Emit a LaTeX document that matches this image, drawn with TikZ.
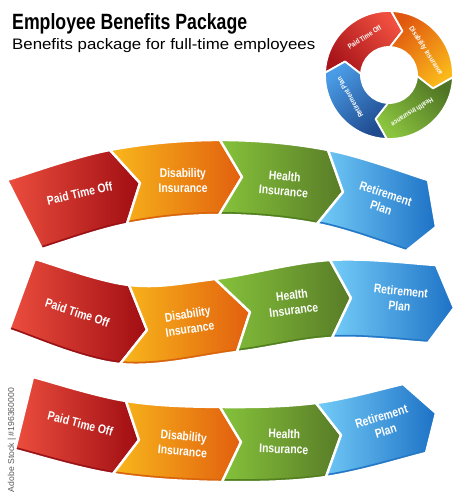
\documentclass[tikz,border=0pt]{standalone}
\usepackage{fontspec}
\setmainfont{Liberation Sans}
\usetikzlibrary{calc}
\definecolor{redL}{HTML}{EC4E3E}
\definecolor{redD}{HTML}{A00D12}
\definecolor{redE}{HTML}{9A1116}
\definecolor{oraL}{HTML}{F8B81C}
\definecolor{oraD}{HTML}{E25F0E}
\definecolor{oraE}{HTML}{D8650C}
\definecolor{grnL}{HTML}{86C33B}
\definecolor{grnD}{HTML}{587C27}
\definecolor{grnE}{HTML}{52801F}
\definecolor{bluL}{HTML}{74CDF8}
\definecolor{bluD}{HTML}{1E72C6}
\definecolor{bluE}{HTML}{2478C8}
\definecolor{credL}{HTML}{F0503F}
\definecolor{credD}{HTML}{A8141A}
\definecolor{coraL}{HTML}{FAB91A}
\definecolor{coraD}{HTML}{E0560F}
\definecolor{cgrnL}{HTML}{8BC53F}
\definecolor{cgrnD}{HTML}{4F7424}
\definecolor{cbluL}{HTML}{4A9CE6}
\definecolor{cbluD}{HTML}{1F4A8E}
\newcommand\lbl[1]{\scalebox{0.83}[1]{\begin{tabular}{@{}c@{}}#1\end{tabular}}}
% outline of one chevron of row #1 between boundaries #3 and #4 (#2, #5 neighbours)
\newcommand\chevP[5]{(#1t#3)
    .. controls ($(#1t#3)+0.1667*(#1t#4)-0.1667*(#1t#2)$) and ($(#1t#4)+0.1667*(#1t#3)-0.1667*(#1t#5)$) .. (#1t#4)
    -- (#1m#4) -- (#1b#4)
    .. controls ($(#1b#4)+0.1667*(#1b#3)-0.1667*(#1b#5)$) and ($(#1b#3)+0.1667*(#1b#4)-0.1667*(#1b#2)$) .. (#1b#3)
    -- (#1m#3) -- cycle}
\newcommand\chevron[7]{%
  \begin{scope}
    \clip \chevP{#1}{#2}{#3}{#4}{#5};
    \path[#6] \chevP{#1}{#2}{#3}{#4}{#5};
    \draw[draw=#7, line width=6pt]
      (#1b#4) .. controls ($(#1b#4)+0.1667*(#1b#3)-0.1667*(#1b#5)$) and ($(#1b#3)+0.1667*(#1b#4)-0.1667*(#1b#2)$) .. (#1b#3);
  \end{scope}
  \path[chev] \chevP{#1}{#2}{#3}{#4}{#5};}
\newcommand\ringseg[3]{%
  \path[#3] (#1:64) arc[start angle=#1, end angle=#2, radius=64] -- ({#2-15}:46) -- (#2:28)
    arc[start angle=#2, end angle=#1, radius=28] -- ({#1-15}:46) -- cycle;}
\tikzset{
  chev/.style={draw=white, line width=2.4pt, line join=round},
  redc/.style={left color=redL, right color=redD},
  orac/.style={left color=oraL, right color=oraD},
  grnc/.style={left color=grnL, right color=grnD},
  bluc/.style={left color=bluL, right color=bluD},
  ring/.style={draw=white, line width=1.8pt, line join=round},
  lab/.style={text=white, font=\bfseries\fontsize{12.5}{15}\selectfont, inner sep=0pt},
  clab/.style={text=white, font=\bfseries\fontsize{7.2}{9}\selectfont, inner sep=0pt},
}
\begin{document}
\begin{tikzpicture}[x=1pt, y=1pt]
\useasboundingbox (0,0) rectangle (462,-500);
% titles
\node[anchor=base west, inner sep=0pt] (title) at (12,-30)
  {\resizebox{235pt}{16pt}{\bfseries Employee Benefits Package}};
\node[anchor=base west, inner sep=0pt] (subtitle) at (12,-50)
  {\resizebox{303pt}{11pt}{Benefits package for full-time employees}};
% ring
\begin{scope}[shift={(389,-75)}]
  \ringseg{178}{88}{ring, top color=credL, bottom color=credD, shading angle=-47}
  \ringseg{88}{-2}{ring, top color=coraL, bottom color=coraD, shading angle=-137}
  \ringseg{-2}{-92}{ring, top color=cgrnL, bottom color=cgrnD, shading angle=133}
  \ringseg{-92}{-182}{ring, top color=cbluL, bottom color=cbluD, shading angle=43}
  \node[clab, rotate=33] (c1) at (123:45) {\scalebox{0.83}[1]{Paid Time Off}};
  \node[clab, rotate=-57] (c2) at (33:44) {\scalebox{0.83}[1]{Disability Insurance}};
  \node[clab, rotate=-148] (c3) at (-58:44) {\scalebox{0.83}[1]{Health Insurance}};
  \node[clab, rotate=120] (c4) at (210:45) {\scalebox{0.83}[1]{Retirement Plan}};
\end{scope}
% row A
\coordinate (At0) at (7,-180);   \coordinate (Ab0) at (42,-249);
\coordinate (Am0) at ($(At0)!0.5!(Ab0)$);
\coordinate (At1) at (110,-150); \coordinate (Am1) at (140,-183); \coordinate (Ab1) at (127,-224);
\coordinate (At2) at (220,-140); \coordinate (Am2) at (242,-177); \coordinate (Ab2) at (219,-215);
\coordinate (At3) at (328,-150); \coordinate (Am3) at (343,-192); \coordinate (Ab3) at (317,-224);
\coordinate (At4) at (428,-180); \coordinate (Am4) at (436,-227); \coordinate (Ab4) at (406,-251);
\chevron{A}{0}{0}{1}{2}{redc}{redE}
\chevron{A}{0}{1}{2}{3}{orac}{oraE}
\chevron{A}{1}{2}{3}{4}{grnc}{grnE}
\chevron{A}{2}{3}{4}{4}{bluc}{bluE}
\node[lab, rotate=13] (a1) at (80,-195) {\lbl{Paid Time Off}};
\node[lab, rotate=1] (a2) at (183,-182) {\lbl{Disability\\Insurance}};
\node[lab, rotate=-5] (a3) at (284,-185) {\lbl{Health\\Insurance}};
\node[lab, rotate=-18] (a4) at (383,-202) {\lbl{Retirement\\Plan}};
% row B
\coordinate (Bt0) at (35,-259);  \coordinate (Bb0) at (9,-330);
\coordinate (Bm0) at ($(Bt0)!0.5!(Bb0)$);
\coordinate (Bt1) at (129,-285); \coordinate (Bm1) at (147,-330); \coordinate (Bb1) at (120,-364);
\coordinate (Bt2) at (215,-279); \coordinate (Bm2) at (250,-312); \coordinate (Bb2) at (237,-352);
\coordinate (Bt3) at (330,-260); \coordinate (Bm3) at (351,-298); \coordinate (Bb3) at (332,-338);
\coordinate (Bt4) at (436,-265); \coordinate (Bm4) at (454,-308); \coordinate (Bb4) at (428,-343);
\chevron{B}{0}{0}{1}{2}{redc}{redE}
\chevron{B}{0}{1}{2}{3}{orac}{oraE}
\chevron{B}{1}{2}{3}{4}{grnc}{grnE}
\chevron{B}{2}{3}{4}{4}{bluc}{bluE}
\node[lab, rotate=-18] (b1) at (77,-314) {\lbl{Paid Time Off}};
\node[lab, rotate=9] (b2) at (189,-323) {\lbl{Disability\\Insurance}};
\node[lab, rotate=7] (b3) at (293,-304) {\lbl{Health\\Insurance}};
\node[lab, rotate=-6] (b4) at (400,-300) {\lbl{Retirement\\Plan}};
% row C
\coordinate (Ct0) at (33,-377);  \coordinate (Cb0) at (15,-450);
\coordinate (Cm0) at ($(Ct0)!0.5!(Cb0)$);
\coordinate (Ct1) at (126,-401); \coordinate (Cm1) at (139,-440); \coordinate (Cb1) at (113,-474);
\coordinate (Ct2) at (220,-407); \coordinate (Cm2) at (241,-442); \coordinate (Cb2) at (222,-482);
\coordinate (Ct3) at (316,-403); \coordinate (Cm3) at (341,-435); \coordinate (Cb3) at (326,-477);
\coordinate (Ct4) at (403,-384); \coordinate (Cm4) at (436,-413); \coordinate (Cb4) at (426,-453);
\chevron{C}{0}{0}{1}{2}{redc}{redE}
\chevron{C}{0}{1}{2}{3}{orac}{oraE}
\chevron{C}{1}{2}{3}{4}{grnc}{grnE}
\chevron{C}{2}{3}{4}{4}{bluc}{bluE}
\node[lab, rotate=-14] (d1) at (80,-425) {\lbl{Paid Time Off}};
\node[lab, rotate=-5] (d2) at (183,-445) {\lbl{Disability\\Insurance}};
\node[lab, rotate=-2] (d3) at (284,-443) {\lbl{Health\\Insurance}};
\node[lab, rotate=17] (d4) at (384,-425) {\lbl{Retirement\\Plan}};
% side text
\node[rotate=90, inner sep=0pt, text=black!65] (wm) at (12,-440)
  {\resizebox{104pt}{!}{Adobe Stock | \#196360000}};
\end{tikzpicture}
\end{document}
